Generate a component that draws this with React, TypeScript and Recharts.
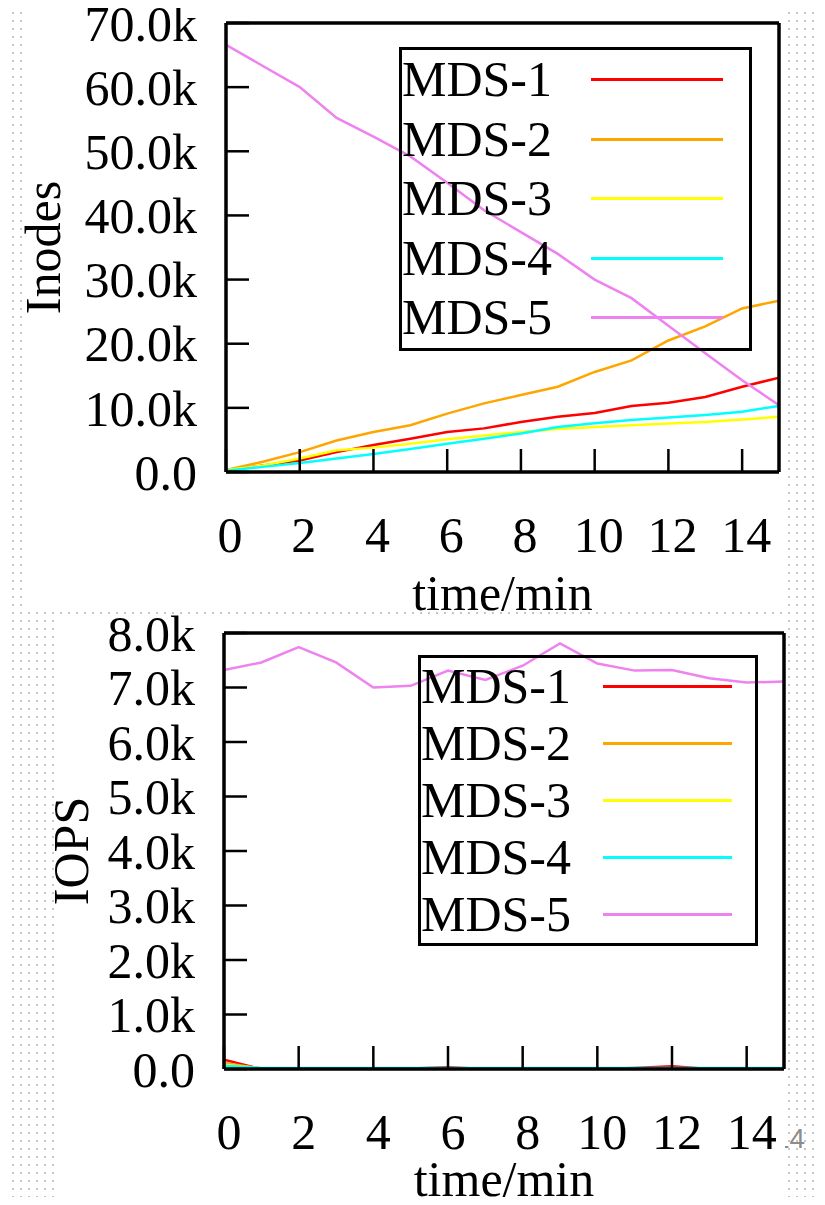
import { LineChart, Line, XAxis, YAxis, Legend } from 'recharts';

const FONT = '"Liberation Serif", "Times New Roman", serif';

// minutes on the x axis
const minutes = [0, 1, 2, 3, 4, 5, 6, 7, 8, 9, 10, 11, 12, 13, 14, 15];
const xTicks = [0, 2, 4, 6, 8, 10, 12, 14];

const seriesNames = ['MDS-1', 'MDS-2', 'MDS-3', 'MDS-4', 'MDS-5'];
const seriesColors = ['#ff0000', '#ffa500', '#ffff00', '#00ffff', '#ee82ee'];

// top chart: inodes per MDS
const inodes1 = [300, 1000, 1800, 3100, 4200, 5200, 6250, 6800, 7800, 8600, 9200, 10300, 10800, 11700, 13300, 14700];
const inodes2 = [300, 1600, 3100, 4900, 6250, 7300, 9100, 10700, 12000, 13300, 15600, 17400, 20500, 22700, 25500, 26700];
const inodes3 = [300, 1000, 2100, 3400, 3800, 4400, 5100, 5700, 6250, 6700, 7000, 7300, 7550, 7800, 8200, 8600];
const inodes4 = [200, 800, 1400, 2100, 2800, 3600, 4400, 5200, 6000, 7000, 7600, 8100, 8500, 8900, 9400, 10300];
const inodes5 = [66600, 63300, 60000, 55200, 52300, 49200, 45100, 40800, 37400, 34000, 30000, 27100, 22800, 18500, 14300, 10400];
const inodeTicks = [0, 10000, 20000, 30000, 40000, 50000, 60000, 70000];

// bottom chart: IOPS per MDS
const iops1 = [170, 0, 0, 0, 0, 10, 30, 0, 0, 0, 0, 20, 50, 0, 0, 0];
const iops2 = [110, 10, 5, 5, 5, 5, 10, 5, 5, 5, 5, 5, 10, 5, 5, 5];
const iops3 = [80, 15, 15, 15, 15, 15, 15, 15, 15, 15, 15, 15, 15, 15, 15, 15];
const iops4 = [60, 20, 20, 20, 20, 20, 20, 20, 20, 20, 20, 20, 20, 20, 20, 20];
const iops5 = [7320, 7460, 7740, 7460, 7000, 7030, 7310, 7140, 7400, 7810, 7440, 7310, 7320, 7170, 7090, 7110];
const iopsTicks = [0, 1000, 2000, 3000, 4000, 5000, 6000, 7000, 8000];

function buildRows(series: number[][]) {
  return minutes.map((t, i) => {
    const row: Record<string, number> = { t };
    seriesNames.forEach((name, k) => {
      row[name] = series[k][i];
    });
    return row;
  });
}

const inodeRows = buildRows([inodes1, inodes2, inodes3, inodes4, inodes5]);
const iopsRows = buildRows([iops1, iops2, iops3, iops4, iops5]);

const fmtK = (v: number) => (v === 0 ? '0.0' : (v / 1000).toFixed(1) + 'k');

const tickStyle = { fill: '#000', fontSize: 50, fontFamily: FONT };

const makeLegend = (rowH: number, lineLeft: number, lineWidth: number) => (props: any) => (
  <div style={{ border: '3px solid #000', fontFamily: FONT, fontSize: 50, color: '#000' }}>
    {(props.payload || []).map((p: any) => (
      <div key={p.value} style={{ position: 'relative', height: rowH, lineHeight: rowH + 'px', whiteSpace: 'nowrap' }}>
        <span>{p.value}</span>
        <div
          style={{
            position: 'absolute',
            left: lineLeft,
            width: lineWidth,
            top: rowH / 2 - 1.5,
            height: 3,
            background: p.color,
          }}
        />
      </div>
    ))}
  </div>
);

interface PanelProps {
  data: Record<string, number>[];
  height: number;
  plotTop: number;
  plotBottom: number;
  plotLeft: number;
  plotRight: number;
  yTicks: number[];
  yLabel: string;
  yLabelOffset: number;
  xLabelOffset: number;
  xTickShift: number;
  legendBox: { left: number; top: number; width: number; rowH: number; lineLeft: number; lineWidth: number };
}

function Panel(p: PanelProps) {
  const yMax = p.yTicks[p.yTicks.length - 1];
  return (
    <LineChart
      width={825}
      height={p.height}
      data={p.data}
      margin={{ top: p.plotTop - 1, right: 825 - p.plotRight - 1, bottom: 0, left: 0 }}
    >
      <XAxis
        xAxisId="b"
        dataKey="t"
        type="number"
        domain={[0, 15]}
        ticks={xTicks}
        interval={0}
        allowDataOverflow
        height={p.height - p.plotBottom}
        stroke="#000"
        axisLine={{ strokeWidth: 3.5 }}
        tickLine={{ strokeWidth: 2.5 }}
        tickSize={-23}
        tickMargin={67}
        tick={{ ...tickStyle, dx: p.xTickShift }}
        label={{ value: 'time/min', position: 'insideBottom', offset: p.xLabelOffset, fill: '#000', fontSize: 50, fontFamily: FONT }}
      />
      <XAxis
        xAxisId="t"
        orientation="top"
        dataKey="t"
        type="number"
        domain={[0, 15]}
        ticks={xTicks}
        interval={0}
        allowDataOverflow
        height={1}
        stroke="#000"
        axisLine={{ strokeWidth: 3.5 }}
        tickLine={{ strokeWidth: 2.5 }}
        tickSize={-23}
        tick={false}
      />
      <YAxis
        yAxisId="l"
        type="number"
        domain={[0, yMax]}
        ticks={p.yTicks}
        interval={0}
        allowDataOverflow
        width={p.plotLeft}
        stroke="#000"
        axisLine={{ strokeWidth: 3.5 }}
        tickLine={{ strokeWidth: 2.5 }}
        tickSize={-23}
        tickMargin={52}
        tick={tickStyle}
        tickFormatter={fmtK}
        label={{
          value: p.yLabel,
          angle: -90,
          position: 'insideLeft',
          offset: p.yLabelOffset,
          fill: '#000',
          fontSize: 50,
          fontFamily: FONT,
          style: { textAnchor: 'middle' },
        }}
      />
      <YAxis
        yAxisId="r"
        orientation="right"
        type="number"
        domain={[0, yMax]}
        ticks={p.yTicks}
        interval={0}
        allowDataOverflow
        width={1}
        stroke="#000"
        axisLine={{ strokeWidth: 3.5 }}
        tickLine={{ strokeWidth: 2.5 }}
        tickSize={-23}
        tick={false}
      />
      <Legend
        layout="vertical"
        align="center"
        verticalAlign="middle"
        content={makeLegend(p.legendBox.rowH, p.legendBox.lineLeft, p.legendBox.lineWidth)}
        wrapperStyle={{ left: p.legendBox.left, top: p.legendBox.top, width: p.legendBox.width, height: 'auto' }}
      />
      {seriesNames.map((name, k) => (
        <Line
          key={name}
          xAxisId="b"
          yAxisId="l"
          type="linear"
          dataKey={name}
          name={name}
          stroke={seriesColors[k]}
          strokeWidth={2.5}
          dot={false}
          isAnimationActive={false}
        />
      ))}
    </LineChart>
  );
}

export default function App() {
  return (
    <div
      style={{
        position: 'relative',
        width: 825,
        height: 1205,
        margin: -8,
        overflow: 'hidden',
        backgroundColor: '#fff',
        backgroundImage: 'radial-gradient(circle, #c6c6c6 0.9px, transparent 1.3px)',
        backgroundSize: '8px 8px',
        backgroundPosition: '1px 1px',
      }}
    >
      <div
        style={{
          position: 'absolute',
          left: 774,
          top: 1125,
          fontSize: 28,
          lineHeight: 1,
          fontFamily: '"Liberation Sans", sans-serif',
          color: '#8c8c8c',
        }}
      >
        14
      </div>
      <div style={{ position: 'absolute', left: 22, top: 6, width: 760, height: 604, background: '#fff' }} />
      <div style={{ position: 'absolute', left: 58, top: 617, width: 727, height: 600, background: '#fff' }} />
      <div style={{ position: 'absolute', left: 0, top: 0 }}>
        <Panel
          data={inodeRows}
          height={625}
          plotTop={23}
          plotBottom={472}
          plotLeft={226}
          plotRight={779}
          yTicks={inodeTicks}
          yLabel="Inodes"
          yLabelOffset={42}
          xLabelOffset={15}
          xTickShift={4}
          legendBox={{ left: 399, top: 47, width: 353, rowH: 59.5, lineLeft: 189, lineWidth: 132 }}
        />
      </div>
      <div style={{ position: 'absolute', left: 0, top: 598 }}>
        <Panel
          data={iopsRows}
          height={607}
          plotTop={35}
          plotBottom={471}
          plotLeft={224}
          plotRight={784}
          yTicks={iopsTicks}
          yLabel="IOPS"
          yLabelOffset={70}
          xLabelOffset={9}
          xTickShift={5}
          legendBox={{ left: 418, top: 57, width: 340, rowH: 57, lineLeft: 182, lineWidth: 129 }}
        />
      </div>
    </div>
  );
}
